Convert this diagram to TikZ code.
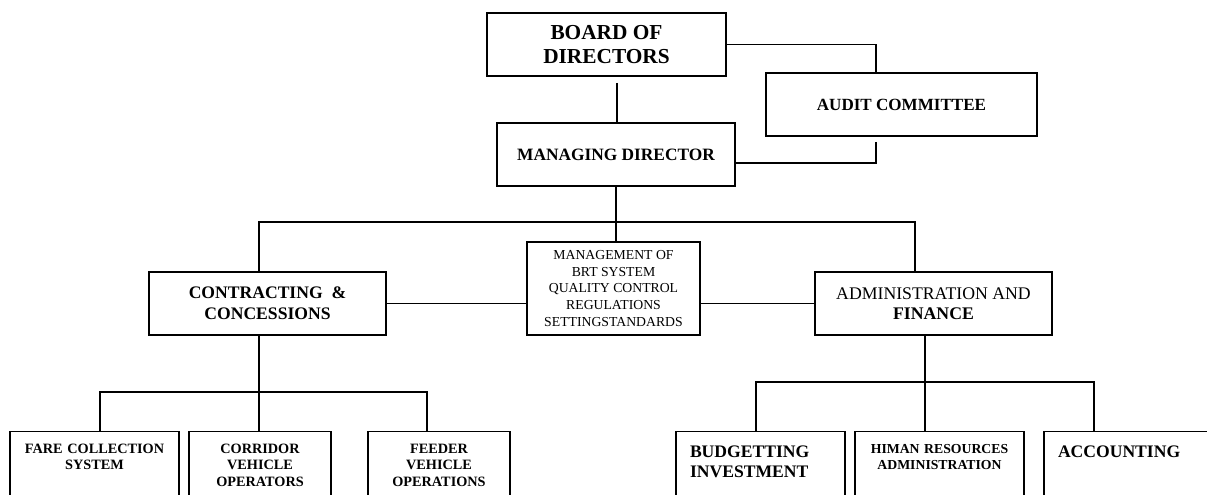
\documentclass[tikz,border=0pt]{standalone}
\usepackage{fontspec}
\setmainfont{Liberation Serif}
\usepackage{tikz}

\tikzset{
    orgBox/.style={shape=rectangle, draw=black, inner sep=0pt, align=center},
    lowBox/.style={orgBox, anchor=north, text width=#1, inner xsep=0pt, text depth=43.9pt, text height=16.1pt},
    bigFont/.style={font=\bfseries\fontsize{13.2}{15}\selectfont},
    smallFont/.style={font=\bfseries\fontsize{10.7}{12.5}\selectfont}
}

\begin{document}
\begin{tikzpicture}[x=0.75pt, y=-0.75pt, line width=0.9pt]
    \useasboundingbox (0,0) rectangle (1207,495);
    \clip (0,0) rectangle (1207,495);

    \node[orgBox, minimum width=179.25pt, minimum height=47.25pt, font=\bfseries\fontsize{16}{18}\selectfont] (board) at (606.5,44.5) {BOARD OF\\DIRECTORS};
    \node[orgBox, minimum width=203.25pt, minimum height=47.25pt, font=\bfseries\fontsize{12.8}{15}\selectfont] (audit) at (901.5,104.5) {AUDIT COMMITTEE};
    \node[orgBox, minimum width=178.5pt, minimum height=47.25pt, font=\bfseries\fontsize{13}{15}\selectfont] (manDir) at (616,154.5) {MANAGING DIRECTOR};

    \node[orgBox, minimum width=177.75pt, minimum height=47.25pt, font=\bfseries\fontsize{13.2}{15.75}\selectfont] (contract) at (267.5,303.5) {CONTRACTING\ \ \&\\CONCESSIONS};
    \node[orgBox, minimum width=129.75pt, minimum height=69.75pt, font=\fontsize{10.3}{12.5}\selectfont] (brtMgmt) at (613.5,288.5) {MANAGEMENT OF\\BRT SYSTEM\\QUALITY CONTROL\\REGULATIONS\\SETTINGSTANDARDS};
    \node[orgBox, minimum width=177.75pt, minimum height=47.25pt, font=\fontsize{13.3}{15}\selectfont] (adminFin) at (933.5,303.5) {ADMINISTRATION AND\\\textbf{FINANCE}};

    \node[lowBox=126.75pt, smallFont] (fare) at (94.5,431) {FARE COLLECTION\\SYSTEM};
    \node[lowBox=106.5pt, smallFont] (corridor) at (260,431) {CORRIDOR\\VEHICLE\\OPERATORS};
    \node[lowBox=106.5pt, smallFont] (feeder) at (439,431) {FEEDER\\VEHICLE\\OPERATIONS};

    \node[lowBox=105.75pt, inner xsep=10.5pt, align=left, bigFont, text height=19.3pt, text depth=40.7pt] (budget) at (760.5,431) {BUDGETTING\\INVESTMENT};
    \node[lowBox=126.75pt, font=\bfseries\fontsize{10.3}{12.5}\selectfont] (himan) at (939.5,431) {HIMAN RESOURCES\\ADMINISTRATION};
    \node[lowBox=105.75pt, inner xsep=10.5pt, align=left, bigFont, text height=19.3pt, text depth=40.7pt] (acct) at (1128.5,431) {ACCOUNTING};

    \coordinate (boardDrop) at (617,83);
    \coordinate (auditLine) at (876,142);
    \coordinate (auditLink) at (876,163);
    \draw (boardDrop) -- (boardDrop |- manDir.north);
    \draw (board.east) -| (auditLine |- audit.north);
    \draw (auditLine) -- (auditLink) -- (auditLink -| manDir.east);

    \coordinate (topBusL) at (259,222);
    \coordinate (topBusR) at (915,222);
    \draw (manDir.south) -- (manDir.south |- brtMgmt.north);
    \draw (topBusL |- contract.north) |- (topBusR) -- (topBusR |- adminFin.north);
    \draw (contract.east) -- (contract.east -| brtMgmt.west);
    \draw (brtMgmt.east |- adminFin.west) -- (adminFin.west);

    \coordinate (leftBus) at (259,392);
    \coordinate (leftBusL) at (100,392);
    \coordinate (leftBusR) at (427,392);
    \draw (leftBus |- contract.south) -- (leftBus |- corridor.north);
    \draw (leftBusL |- fare.north) |- (leftBusR) -- (leftBusR |- feeder.north);

    \coordinate (rightBus) at (925,382);
    \coordinate (rightBusL) at (756,382);
    \coordinate (rightBusR) at (1094,382);
    \draw (rightBus |- adminFin.south) -- (rightBus |- himan.north);
    \draw (rightBusL |- budget.north) |- (rightBusR) -- (rightBusR |- acct.north);
\end{tikzpicture}
\end{document}
